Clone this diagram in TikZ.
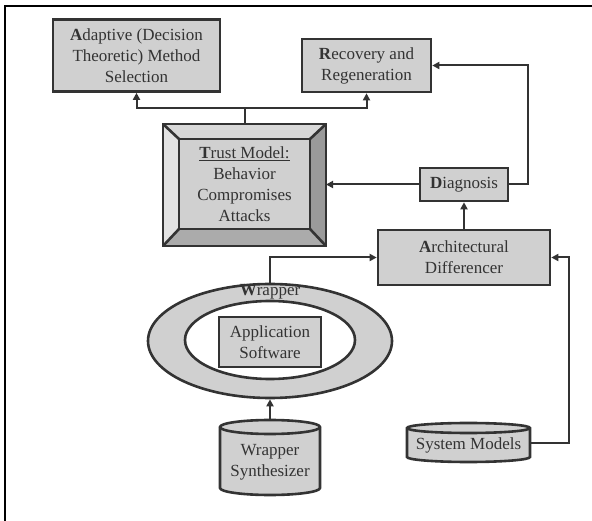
\documentclass[tikz,border=0pt]{standalone}
\usepackage{fontspec}
\setmainfont{Liberation Serif}
\newfontfamily\diagfont{Liberation Serif}
\usetikzlibrary{arrows.meta,shapes.geometric,calc}
\definecolor{ink}{HTML}{333333}
\definecolor{boxgray}{HTML}{D0D0D0}
\definecolor{bevtop}{HTML}{D8D8D8}
\definecolor{bevleft}{HTML}{E2E2E2}
\definecolor{bevright}{HTML}{9A9A9A}
\definecolor{bevbottom}{HTML}{ABABAB}

% draws a vertical cylinder filling the named node's box, with top/bottom ellipse half-height #2
\newcommand{\drumshape}[2]{%
  \path (#1.north west) ++(0,#2) coordinate (#1-tl);
  \path (#1.south west) ++(0,-#2) coordinate (#1-bl);
  \path (#1.north east) ++(0,#2) coordinate (#1-tr);
  \path let \p1=(#1.north west), \p2=(#1.north east) in
    \pgfextra{\pgfmathsetmacro{\drumrx}{(\x2-\x1)/2}\xdef\drumrx{\drumrx}};
  \draw[shapeline, fill=boxgray] (#1-tl) -- (#1-bl)
     arc[start angle=180, end angle=360, x radius=\drumrx pt, y radius=#2pt]
     -- (#1-tr)
     arc[start angle=0, end angle=180, x radius=\drumrx pt, y radius=#2pt] -- cycle;
  \draw[shapeline] (#1-tl)
     arc[start angle=180, end angle=360, x radius=\drumrx pt, y radius=#2pt];
}

\begin{document}
\begin{tikzpicture}[x=1pt, y=-1pt,
  every node/.style={font=\diagfont\fontsize{17}{21}\selectfont, text=ink},
  shapeline/.style={draw=ink, line width=2.6pt, line join=miter},
  box/.style={shapeline, fill=boxgray, align=center, inner sep=0pt},
  anchorbox/.style={inner sep=0pt, outer sep=0pt},
  link/.style={draw=ink, line width=2pt, -{Triangle[length=7pt,width=7pt]}}]
\useasboundingbox (0,0) rectangle (592,521);

% page frame (left and top edges)
\draw[line width=1.5pt, black] (5,521) -- (5,6) -- (592,6);

% upper boxes
\node[box, minimum width=167pt, minimum height=72pt] (adapt) at (136.5,55.5)
  {\textbf{A}daptive (Decision\\Theoretic) Method\\Selection};
\node[box, minimum width=129pt, minimum height=53pt] (rec) at (366.5,65.5)
  {\textbf{R}ecovery and\\Regeneration};

% bevelled trust model block
\node[anchorbox, minimum width=163pt, minimum height=122pt] (trust) at (244.5,185) {};
\node[anchorbox, minimum width=131pt, minimum height=90pt] (face) at (244.5,184) {};
\fill[boxgray] (face.north west) rectangle (face.south east);
\fill[bevtop] (trust.north west) -- (trust.north east) -- (face.north east) -- (face.north west) -- cycle;
\fill[bevleft] (trust.north west) -- (face.north west) -- (face.south west) -- (trust.south west) -- cycle;
\fill[bevright] (trust.north east) -- (trust.south east) -- (face.south east) -- (face.north east) -- cycle;
\fill[bevbottom] (trust.south west) -- (face.south west) -- (face.south east) -- (trust.south east) -- cycle;
\draw[shapeline] (trust.north west) rectangle (trust.south east);
\draw[shapeline] (face.north west) rectangle (face.south east);
\draw[shapeline] (trust.north west) -- (face.north west)
                 (trust.north east) -- (face.north east)
                 (trust.south west) -- (face.south west)
                 (trust.south east) -- (face.south east);
\node[align=center, inner sep=0pt] (trusttext) at (face.center)
  {\underline{\textbf{T}rust Model:}\\Behavior\\Compromises\\Attacks};

% diagnosis and differencer
\node[box, minimum width=88pt, minimum height=33pt] (diag) at (464,184.5) {\textbf{D}iagnosis};
\node[box, minimum width=172pt, minimum height=55pt] (arch) at (464,257.5)
  {\textbf{A}rchitectural\\Differencer};

% wrapper ring around the application
\node[ellipse, shapeline, fill=boxgray, minimum width=244pt, minimum height=114pt, inner sep=0pt] (wrap) at (270,341) {};
\node[ellipse, shapeline, fill=white, minimum width=170pt, minimum height=78pt, inner sep=0pt] (wrapin) at (270,340) {};
\node[inner sep=0pt] (wraplbl) at (270,292) {\textbf{W}rapper};
\node[box, minimum width=102pt, minimum height=50pt] (app) at (270,342) {Application\\Software};

% data stores
\node[anchorbox, minimum width=100pt, minimum height=75pt] (synth) at (270,457.5) {};
\drumshape{synth}{7}
\node[align=center, inner sep=0pt] (synthtext) at (270,462) {Wrapper\\Synthesizer};
\node[anchorbox, minimum width=123pt, minimum height=39pt] (sys) at (468.5,442.5) {};
\drumshape{sys}{5}
\node[inner sep=0pt] (systext) at (468.5,445) {System Models};

% connectors
\draw[link] (trust.north) -- ++(0,-16) -| (adapt.south);
\draw[link] (trust.north) -- ++(0,-16) -| (rec.south);
\draw[link] (diag.west) -- (diag.west -| trust.east);
\draw[link] (diag.east) -- ++(19,0) |- (rec.east);
\draw[link] (arch.north) -- (diag.south);
\draw[link] (wrap.north) |- (arch.west);
\draw[link] (sys.east) -- ++(39,0) |- (arch.east);
\draw[link] (synth.north) -- (wrap.south);
\end{tikzpicture}
\end{document}
